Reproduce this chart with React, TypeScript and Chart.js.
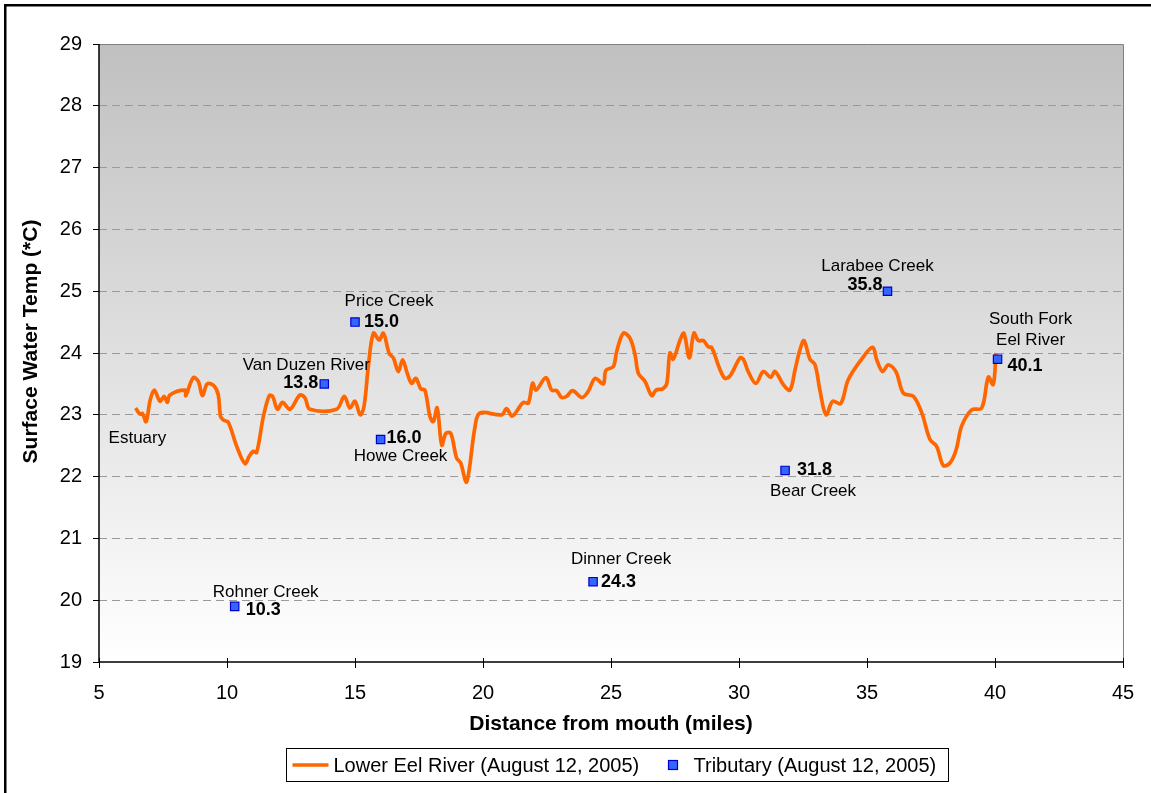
import React, { useEffect, useRef } from 'react';
import { Chart, registerables } from 'chart.js';

Chart.register(...registerables);

// ---------- data ----------
const riverMiles = [
  6.43, 6.6, 6.7, 6.84, 7.0, 7.16, 7.38, 7.54, 7.67, 7.77, 8.36, 8.39, 8.68, 8.88, 9.04, 9.23, 9.49, 9.66,
  9.75, 9.88, 10.05, 10.38, 10.7, 10.87, 11.03, 11.16, 11.42, 11.65, 11.78, 11.97, 12.17, 12.46, 12.85,
  13.05, 13.24, 14.28, 14.58, 14.8, 15.0, 15.2, 15.35, 15.52, 15.72, 15.95, 16.11, 16.34, 16.5, 16.69,
  16.86, 17.02, 17.21, 17.38, 17.57, 17.73, 17.93, 18.06, 18.21, 18.39, 18.55, 18.74, 18.97, 19.13, 19.34,
  19.46, 19.69, 19.88, 20.73, 20.92, 21.14, 21.57, 21.77, 21.94, 22.07, 22.46, 22.68, 22.88, 23.07, 23.27,
  23.5, 23.86, 24.11, 24.38, 24.7, 24.8, 25.09, 25.22, 25.48, 25.74, 25.94, 26.07, 26.33, 26.59, 26.76,
  27.02, 27.18, 27.3, 27.43, 27.7, 27.85, 28.06, 28.24, 28.41, 28.61, 28.8, 28.93, 29.26, 29.45, 29.65,
  30.04, 30.17, 30.36, 30.66, 30.95, 31.24, 31.41, 31.73, 31.99, 32.19, 32.38, 32.54, 32.77, 32.97, 33.16,
  33.4, 33.66, 33.97, 34.27, 34.79, 35.22, 35.38, 35.61, 35.83, 36.13, 36.42, 36.81, 37.14, 37.46, 37.72,
  37.98, 38.24, 38.48, 38.7, 39.09, 39.48, 39.74, 39.93, 40.04,
];
const riverTemps = [
  23.11, 23.01, 23.02, 22.89, 23.24, 23.4, 23.22, 23.3, 23.2, 23.32, 23.4, 23.31, 23.6, 23.54, 23.31, 23.5,
  23.47, 23.32, 22.97, 22.91, 22.88, 22.49, 22.21, 22.33, 22.41, 22.39, 22.97, 23.31, 23.3, 23.09, 23.2,
  23.09, 23.32, 23.27, 23.09, 23.09, 23.3, 23.11, 23.22, 23.0, 23.13, 23.78, 24.32, 24.21, 24.32, 23.99,
  23.92, 23.7, 23.89, 23.7, 23.51, 23.59, 23.42, 23.4, 22.97, 22.89, 23.11, 22.51, 22.7, 22.7, 22.3, 22.22,
  21.91, 22.11, 22.81, 23.03, 23.0, 23.1, 22.98, 23.2, 23.19, 23.51, 23.4, 23.6, 23.4, 23.39, 23.28, 23.3,
  23.39, 23.28, 23.38, 23.59, 23.5, 23.72, 23.78, 24.02, 24.32, 24.24, 23.97, 23.67, 23.54, 23.31, 23.4,
  23.42, 23.51, 24.0, 23.9, 24.21, 24.32, 23.92, 24.32, 24.2, 24.2, 24.1, 24.09, 23.73, 23.59, 23.63,
  23.92, 23.9, 23.7, 23.51, 23.7, 23.61, 23.7, 23.49, 23.4, 23.73, 24.05, 24.2, 23.9, 23.81, 23.4,
  23.0, 23.22, 23.18, 23.57, 23.9, 24.09, 23.89, 23.7, 23.81, 23.7, 23.35, 23.3, 23.03, 22.6, 22.49,
  22.18, 22.22, 22.43, 22.82, 23.08, 23.11, 23.61, 23.49, 24.0,
];
const tributaryNames = [
  'Rohner Creek', 'Van Duzen River', 'Price Creek', 'Howe Creek',
  'Dinner Creek', 'Bear Creek', 'Larabee Creek', 'South Fork\nEel River',
];
const tributaryMiles = [10.3, 13.8, 15.0, 16.0, 24.3, 31.8, 35.8, 40.1];
const tributaryTemps = [19.9, 23.5, 24.5, 22.6, 20.3, 22.1, 25.0, 23.9];
const seriesLabels = ['Lower Eel River (August 12, 2005)', 'Tributary (August 12, 2005)'];
const xTitle = 'Distance from mouth (miles)';
const yTitle = 'Surface Water Temp (*C)';
const estuaryLabel = { text: 'Estuary', x: 6.5, y: 22.62 };

// ---------- label placement (pixel offsets from each marker) ----------
const nameOffsets: [number, number][] = [
  [31, -14], [-18, -19], [34, -21], [20, 17], [28, -22], [28, 21], [-10, -25], [33, -40],
];
const valueOffsets: [number, number, CanvasTextAlign][] = [
  [11, 4, 'left'], [-6, -1, 'right'], [9, 0, 'left'], [6, -1, 'left'],
  [8, 0, 'left'], [12, 0, 'left'], [-5, -6, 'right'], [10, 7, 'left'],
];

const FONT = '"Liberation Sans", Arial, Helvetica, sans-serif';
const ORANGE = '#ff6600';
const BLUE = '#3366ff';
const BLUE_BORDER = '#0000cc';

const decorPlugin = {
  id: 'decor',
  beforeDraw(chart: any) {
    const { ctx, chartArea: a } = chart;
    ctx.save();
    ctx.fillStyle = '#ffffff';
    ctx.fillRect(0, 0, chart.width, chart.height);
    const g = ctx.createLinearGradient(0, a.top, 0, a.bottom);
    g.addColorStop(0, '#c0c0c0');
    g.addColorStop(1, '#ffffff');
    ctx.fillStyle = g;
    ctx.fillRect(a.left, a.top, a.right - a.left, a.bottom - a.top);
    ctx.restore();
  },
  afterDatasetsDraw(chart: any) {
    const { ctx, chartArea: a, scales } = chart;
    const xs = scales.x;
    const ys = scales.y;
    ctx.save();
    // plot frame
    ctx.lineWidth = 1;
    ctx.strokeStyle = '#808080';
    ctx.beginPath();
    ctx.moveTo(a.left, a.top + 0.5);
    ctx.lineTo(a.right + 0.5, a.top + 0.5);
    ctx.lineTo(a.right + 0.5, a.bottom);
    ctx.stroke();
    ctx.strokeStyle = '#000000';
    ctx.lineWidth = 1.5;
    ctx.beginPath();
    ctx.moveTo(a.left, a.top);
    ctx.lineTo(a.left, a.bottom);
    ctx.lineTo(a.right + 1, a.bottom);
    ctx.stroke();
    // inner part of x tick marks
    ctx.lineWidth = 1;
    ctx.strokeStyle = '#000';
    xs.ticks.forEach((t: any) => {
      const px = Math.round(xs.getPixelForValue(t.value)) + 0.5;
      ctx.beginPath();
      ctx.moveTo(px, a.bottom - 4);
      ctx.lineTo(px, a.bottom);
      ctx.stroke();
    });

    // tributary labels
    ctx.fillStyle = '#000';
    ctx.textBaseline = 'middle';
    tributaryMiles.forEach((m, i) => {
      const px = xs.getPixelForValue(m);
      const py = ys.getPixelForValue(tributaryTemps[i]);
      ctx.font = `17px ${FONT}`;
      ctx.textAlign = 'center';
      const lines = tributaryNames[i].split('\n');
      lines.forEach((ln, k) => {
        ctx.fillText(ln, px + nameOffsets[i][0], py + nameOffsets[i][1] + k * 21);
      });
      ctx.font = `bold 18px ${FONT}`;
      ctx.textAlign = valueOffsets[i][2];
      ctx.fillText(m.toFixed(1), px + valueOffsets[i][0], py + valueOffsets[i][1]);
    });
    ctx.font = `17px ${FONT}`;
    ctx.textAlign = 'center';
    ctx.fillText(estuaryLabel.text, xs.getPixelForValue(estuaryLabel.x), ys.getPixelForValue(estuaryLabel.y));
    ctx.restore();
  },
  afterDraw(chart: any) {
    const { ctx, chartArea: a } = chart;
    ctx.save();
    // outer frame
    ctx.strokeStyle = '#000';
    ctx.lineWidth = 2.5;
    ctx.strokeRect(5.25, 5.25, chart.width + 20, chart.height + 20);

    // axis titles
    ctx.fillStyle = '#000';
    ctx.font = `bold 21px ${FONT}`;
    ctx.textAlign = 'center';
    ctx.textBaseline = 'alphabetic';
    ctx.fillText(xTitle, (a.left + a.right) / 2, 730);
    ctx.save();
    ctx.translate(37, 341.5);
    ctx.rotate(-Math.PI / 2);
    ctx.fillText(yTitle, 0, 0);
    ctx.restore();

    // legend
    ctx.font = `20px ${FONT}`;
    const bx = 286.5, by = 748.5, bw = 662, bh = 33;
    const cy = by + bh / 2;
    ctx.lineWidth = 1;
    ctx.strokeStyle = '#000';
    ctx.fillStyle = '#fff';
    ctx.fillRect(bx, by, bw, bh);
    ctx.strokeRect(bx, by, bw, bh);
    ctx.strokeStyle = ORANGE;
    ctx.lineWidth = 3.5;
    ctx.beginPath();
    ctx.moveTo(bx + 6, cy);
    ctx.lineTo(bx + 42, cy);
    ctx.stroke();
    ctx.fillStyle = '#000';
    ctx.textAlign = 'left';
    ctx.textBaseline = 'middle';
    ctx.fillText(seriesLabels[0], bx + 47, cy + 1);
    const mk = 9;
    const mx = bx + 382;
    ctx.fillStyle = BLUE;
    ctx.strokeStyle = BLUE_BORDER;
    ctx.lineWidth = 1.2;
    ctx.fillRect(mx, cy - mk / 2, mk, mk);
    ctx.strokeRect(mx, cy - mk / 2, mk, mk);
    ctx.fillStyle = '#000';
    ctx.fillText(seriesLabels[1], bx + 407, cy + 1);
    ctx.restore();
  },
};

export default function App() {
  const ref = useRef<HTMLCanvasElement | null>(null);

  useEffect(() => {
    document.body.style.margin = '0';
    const canvas = ref.current;
    if (!canvas) return;
    const river = riverMiles.map((m, i) => ({ x: m, y: riverTemps[i] }));
    const tribs = tributaryMiles.map((m, i) => ({ x: m, y: tributaryTemps[i] }));
    const chart = new Chart(canvas, {
      type: 'scatter',
      data: {
        datasets: [
          {
            label: seriesLabels[0],
            data: river,
            showLine: true,
            borderColor: ORANGE,
            backgroundColor: ORANGE,
            borderWidth: 3.7,
            pointRadius: 0,
            pointHoverRadius: 0,
            tension: 0.35,
            order: 1,
          } as any,
          {
            label: seriesLabels[1],
            data: tribs,
            pointStyle: 'rect',
            pointRadius: 5.9,
            pointHoverRadius: 5.9,
            backgroundColor: BLUE,
            borderColor: BLUE_BORDER,
            borderWidth: 1.2,
            order: 0,
          },
        ],
      },
      options: {
        animation: false,
        responsive: false,
        devicePixelRatio: 1,
        layout: { padding: { top: 44, right: 28, bottom: 0, left: 0 } },
        plugins: {
          legend: { display: false },
          tooltip: { enabled: false },
        },
        events: [],
        scales: {
          x: {
            type: 'linear',
            min: 5,
            max: 45,
            afterFit: (s: any) => { s.height = 131; },
            ticks: {
              stepSize: 5,
              color: '#000',
              padding: 13,
              font: { family: FONT, size: 20 },
            },
            grid: {
              drawOnChartArea: false,
              drawTicks: true,
              tickLength: 6,
              color: '#000',
              tickColor: '#000',
            },
            border: { display: false },
          },
          y: {
            type: 'linear',
            min: 19,
            max: 29,
            afterFit: (s: any) => { s.width = 99; },
            ticks: {
              stepSize: 1,
              color: '#000',
              padding: 11,
              font: { family: FONT, size: 20 },
            },
            grid: {
              drawTicks: true,
              tickLength: 6,
              color: (c: any) => (c.tick && (c.tick.value === 19 || c.tick.value === 29) ? 'rgba(0,0,0,0)' : '#9a9a9a'),
              tickColor: '#000',
              tickBorderDash: [],
              borderDash: [8, 5],
              lineWidth: 1,
            } as any,
            border: { display: false, dash: [8, 5] },
          },
        },
      },
      plugins: [decorPlugin],
    });
    return () => chart.destroy();
  }, []);

  return (
    <div style={{ width: 1151, height: 793 }}>
      <canvas ref={ref} width={1151} height={793} style={{ display: 'block', width: 1151, height: 793 }} />
    </div>
  );
}
